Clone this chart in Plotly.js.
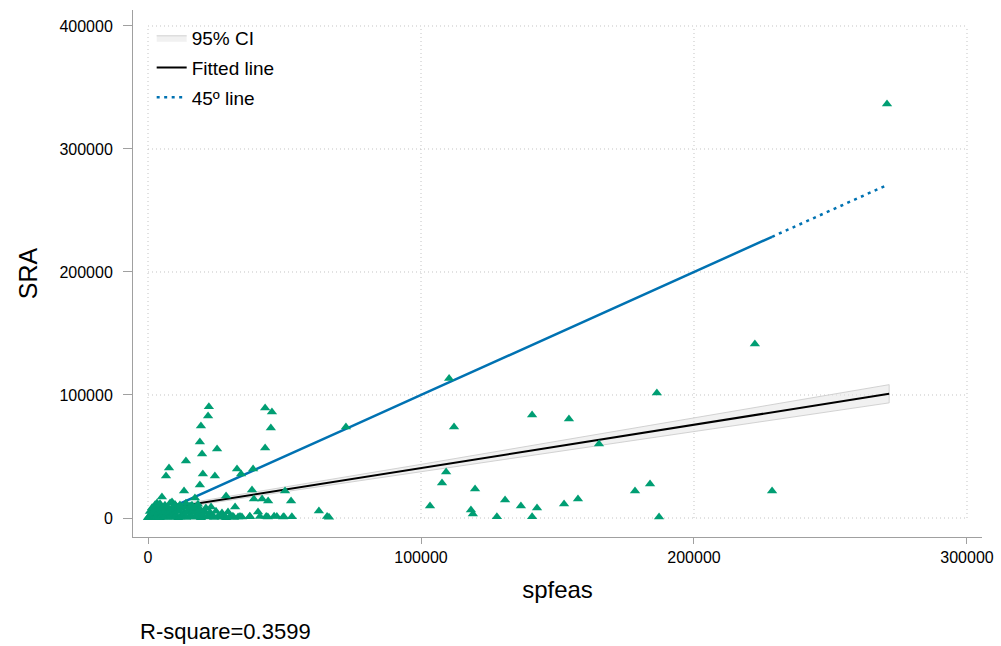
<!DOCTYPE html>
<html>
<head>
<meta charset="utf-8">
<script src="https://cdn.plot.ly/plotly-3.0.1.min.js"></script>
<style>html,body{margin:0;padding:0;background:#fff;}</style>
</head>
<body>
<div id="chart" style="width:1001px;height:646px;"></div>
<script>
// ---- data ----
const spfeas = [
  // far right / sparse points
  270700,222300,186400,228600,178400,183900,187200,110300,112100,140700,154200,165200,
  109200,107700,119800,103300,118300,119000,127800,130800,136600,142500,140700,152400,157500,
  72500,62600,65600,66300,
  // middle cluster
  22300,22000,42900,45400,19400,45000,19000,25300,42900,19800,13900,7700,6600,20100,24500,
  32600,34100,38500,19000,13200,28600,38100,50200,5100,38800,41800,44000,52400,17200,31900,
  40300,43300,46200,49500,37300,33700,23100,3300,8800,18300,16500,15400,
  23800,27500,31100,34400,37300,41000,43900,47200,49800,52700,
  // dense cluster near origin (y ~ 0-2000)
  0,200,400,700,1000,1300,1600,2000,2300,2700,3000,3400,3800,4300,5000,5800,6500,7300,8000,
  8800,9500,10300,11000,11800,12800,13900,15000,16100,17200,18300,19400,20500,21600,22700,
  24200,25600,27100,28600,30000,31500,33000,
  // y ~ 4000-6000
  700,1800,2900,4000,5100,6200,7300,8400,9500,10600,11700,13200,14600,16100,17600,19000,
  20900,22700,24900,27100,29300,
  // y ~ 7500-9500
  1500,2900,4400,5900,7300,8800,10300,11700,13600,15400,17200,19000,21200,
  // y ~ 10500-12500
  2600,4400,6200,8100,9900,11700,13900,16100,18300
];
const SRA = [
  336600,141500,101600,21950,21950,27600,800,113500,74000,83700,80500,60200,
  37400,28500,23600,9800,6500,3300,1000,14600,9800,8100,1000,11400,15400,
  74000,5700,1200,600,
  90400,82900,89400,86200,74800,73200,61800,56100,56900,52000,46300,40700,34100,35800,34100,
  39800,35800,39800,26800,22000,17900,22800,22000,17100,15400,15400,13800,13800,16300,8900,
  4900,1200,1500,800,1100,1300,8900,12200,13000,8500,7300,9800,
  1600,1000,1400,900,1500,1200,800,1300,1000,1100,
  300,800,150,1200,500,900,1500,200,700,1100,400,1600,900,300,1300,600,1800,400,1000,
  1500,700,1200,300,900,1700,500,1100,1400,600,1000,200,1300,800,1500,
  400,1100,700,300,1200,500,900,
  5200,4300,5800,4700,6100,5000,4400,5600,4800,6000,5300,4500,5700,4900,5500,4200,
  5100,4600,5400,4100,4800,
  8300,7600,9100,7900,8700,8100,9300,7700,8500,7900,8800,7400,8200,
  10800,11600,10400,12100,11000,10600,11900,10300,11200
];
// fitted regression line and its 95% CI
const fitX  = [0, 271500];
const fitY  = [5470, 100980];
const ciX   = [0, 50000, 100000, 150000, 200000, 271500];
const ciLow = [4300, 21300, 37700, 54000, 70300, 93600];
const ciHigh= [6700, 24900, 43600, 62500, 81400, 108400];
const rSquare = "0.3599";
const xTicks = [0, 100000, 200000, 300000];
const xTickLabels = ["0", "100000", "200000", "300000"];
const yTicks = [0, 100000, 200000, 300000, 400000];
const yTickLabels = ["0", "100000", "200000", "300000", "400000"];

// ---- derived ----
const sortedX = Array.from(new Set(spfeas)).sort((a,b)=>a-b);
const lineSolidX = sortedX.slice(0, sortedX.length - 1);
const lineDotX = sortedX.slice(sortedX.length - 2);

const green = '#009E73', blue = '#0072B2';
const traces = [
  {
    x: ciX.concat(ciX.slice().reverse()),
    y: ciHigh.concat(ciLow.slice().reverse()),
    type: 'scatter', mode: 'lines', fill: 'toself',
    fillcolor: 'rgba(230,230,230,0.55)',
    line: {color: 'rgba(200,200,200,0.8)', width: 1},
    name: '95% CI', legendgroup: 'a', hoverinfo: 'skip'
  },
  {
    x: fitX, y: fitY, type: 'scatter', mode: 'lines',
    line: {color: '#000000', width: 2},
    name: 'Fitted line', legendgroup: 'b'
  },
  {
    x: lineSolidX, y: lineSolidX, type: 'scatter', mode: 'lines',
    line: {color: blue, width: 2.5},
    name: '45º line', legendgroup: 'c', showlegend: false
  },
  {
    x: lineDotX, y: lineDotX, type: 'scatter', mode: 'lines',
    line: {color: blue, width: 2.5, dash: '3px,4.5px'},
    name: '45º line', legendgroup: 'c'
  },
  {
    x: spfeas, y: SRA, type: 'scatter', mode: 'markers',
    marker: {symbol: 'triangle-up', size: 9, color: green, line: {width: 0}},
    name: 'SRA', showlegend: false
  }
];

const shapes = [];
xTicks.forEach(v => shapes.push({type:'line', xref:'x', yref:'y', x0:v, x1:v, y0:yTicks[0], y1:yTicks[yTicks.length-1],
  line:{color:'#c4c4c4', width:1, dash:'1px,3px'}, layer:'below'}));
yTicks.forEach(v => shapes.push({type:'line', xref:'x', yref:'y', y0:v, y1:v, x0:xTicks[0], x1:xTicks[xTicks.length-1],
  line:{color:'#c4c4c4', width:1, dash:'1px,3px'}, layer:'below'}));

const fontFam = 'Liberation Sans, Arial, Helvetica, sans-serif';
const layout = {
  width: 1001, height: 646,
  margin: {l: 133, r: 19, t: 10, b: 109},
  paper_bgcolor: '#ffffff', plot_bgcolor: '#ffffff',
  font: {family: fontFam, color: '#000000'},
  showlegend: true,
  xaxis: {
    range: [-5495, 305500], tickvals: xTicks, ticktext: xTickLabels,
    showgrid: false, zeroline: false, showline: true, linecolor: '#a0a0a0', linewidth: 1,
    ticks: 'outside', ticklen: 6, tickcolor: '#a0a0a0', tickfont: {size: 16},
    title: {text: 'spfeas', font: {size: 24}, standoff: 15}
  },
  yaxis: {
    range: [-15450, 413000], tickvals: yTicks, ticktext: yTickLabels,
    showgrid: false, zeroline: false, showline: true, linecolor: '#a0a0a0', linewidth: 1,
    ticks: 'outside', ticklen: 9, tickcolor: '#a0a0a0', tickfont: {size: 16},
    ticklabelstandoff: 7,
    title: {text: 'SRA', font: {size: 25}, standoff: 14}
  },
  legend: {
    x: 0.022, y: 0.983, xanchor: 'left', yanchor: 'top',
    bgcolor: 'rgba(0,0,0,0)', borderwidth: 0, font: {size: 19},
    traceorder: 'grouped', tracegroupgap: 2
  },
  shapes: shapes,
  annotations: [{
    xref: 'paper', yref: 'paper', x: 0.006, y: -0.18, xanchor: 'left', yanchor: 'middle',
    text: 'R-square=' + rSquare, showarrow: false, font: {size: 22}
  }]
};

Plotly.newPlot('chart', traces, layout, {displayModeBar: false, staticPlot: true});
</script>
</body>
</html>
